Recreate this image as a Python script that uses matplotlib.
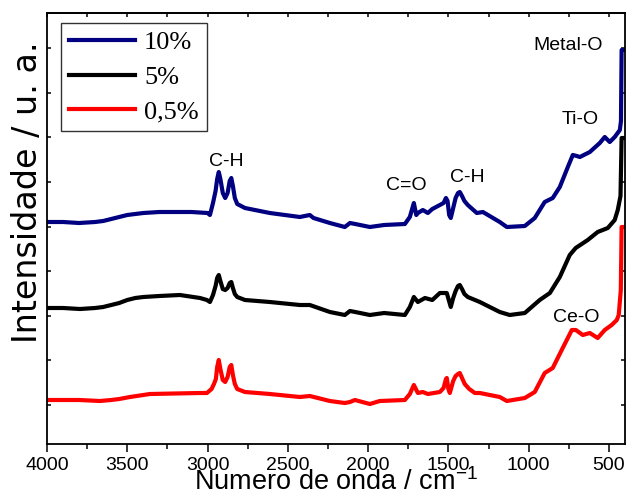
import matplotlib
matplotlib.use("Agg")
import matplotlib.pyplot as plt
import numpy as np
from matplotlib.ticker import MultipleLocator

# FTIR spectra (wavenumber in cm-1, intensity in arbitrary units)
wn_10 = [4000, 3900, 3800, 3700, 3650, 3600, 3550, 3500, 3450, 3400, 3300, 3100, 3000, 2985,
         2966, 2950, 2940, 2930, 2920, 2905, 2890, 2875, 2862, 2852, 2842, 2830, 2815, 2767,
         2612, 2425, 2363, 2340, 2238, 2145, 2113, 2080, 1989, 1900, 1771, 1740, 1715, 1700,
         1690, 1659, 1628, 1600, 1553, 1530, 1515, 1505, 1495, 1485, 1470, 1455, 1440, 1429,
         1415, 1400, 1379, 1323, 1285, 1180, 1136, 1024, 962, 900, 850, 806, 756, 725, 700,
         681, 619, 557, 526, 495, 464, 432, 425, 421, 400]
int_10 = [219, 219, 218, 219, 220, 222, 224, 226, 227, 228, 229, 229, 228, 226,
          238, 250, 262, 269, 262, 248, 243, 248, 260, 263, 255, 243, 237, 233,
          228, 224, 226, 223, 218, 214, 218, 217, 214, 216, 217, 224, 238, 226,
          228, 231, 228, 232, 236, 238, 243, 240, 226, 223, 233, 243, 248, 249,
          245, 240, 236, 228, 229, 219, 214, 215, 223, 239, 243, 254, 274, 286, 285,
          284, 289, 298, 304, 299, 304, 311, 320, 391, 391]

wn_5 = [4000, 3900, 3794, 3700, 3650, 3600, 3550, 3500, 3450, 3400, 3300, 3172, 3047, 3004,
        2985, 2966, 2950, 2940, 2930, 2920, 2905, 2890, 2875, 2862, 2852, 2842, 2830, 2815,
        2767, 2612, 2425, 2363, 2238, 2145, 2113, 2080, 1989, 1900, 1771, 1740, 1715, 1690,
        1646, 1600, 1553, 1510, 1485, 1470, 1455, 1440, 1429, 1415, 1400, 1379, 1304, 1180,
        1118, 1024, 931, 868, 806, 744, 707, 632, 570, 507, 464, 445, 428, 421, 400]
int_5 = [133, 133, 132, 133, 134, 136, 138, 141, 143, 144, 145, 146, 143, 141,
         139, 146, 155, 163, 166, 160, 152, 151, 153, 158, 159, 153, 147, 144,
         141, 139, 136, 136, 129, 126, 130, 129, 126, 128, 126, 134, 144, 139,
         143, 141, 148, 148, 134, 143, 150, 155, 156, 152, 147, 144, 139, 129,
         126, 128, 141, 148, 164, 186, 193, 201, 209, 213, 221, 231, 245, 303, 303]

wn_05 = [4000, 3800, 3670, 3600, 3550, 3483, 3400, 3359, 3047, 3004, 2975, 2960, 2948, 2940,
         2930, 2920, 2905, 2890, 2875, 2862, 2852, 2842, 2830, 2815, 2767, 2612, 2425, 2363,
         2238, 2145, 2113, 2082, 1989, 1927, 1771, 1740, 1715, 1690, 1659, 1628, 1553, 1530,
         1515, 1510, 1500, 1491, 1470, 1455, 1440, 1429, 1415, 1398, 1370, 1335, 1304, 1180,
         1136, 1024, 962, 900, 850, 794, 731, 706, 663, 619, 570, 526, 483, 451, 439, 426,
         421, 400]
int_05 = [41, 41, 40, 41, 42, 44, 46, 47, 48, 48, 52, 57, 62, 74,
          81, 72, 61, 59, 64, 74, 76, 66, 57, 52, 49, 47, 44, 45,
          40, 38, 39, 41, 37, 40, 41, 47, 56, 48, 49, 47, 49, 53,
          62, 63, 52, 48, 60, 65, 67, 68, 63, 57, 52, 48, 48, 44,
          40, 43, 49, 68, 73, 91, 111, 111, 106, 108, 103, 111, 116, 121, 126, 151,
          214, 214]

labels = ["10%", "5%", "0,5%"]
colors = ["#000080", "black", "red"]

# band assignments: (text, wavenumber, intensity)
bands = [("Metal-O", 756, 396), ("Ti-O", 682, 321), ("C-H", 2886, 279),
         ("C=O", 1759, 256), ("C-H", 1385, 264), ("Ce-O", 706, 123)]

plt.rcParams['font.family'] = ['Liberation Sans', 'DejaVu Sans']
plt.rcParams['mathtext.default'] = 'regular'

fig = plt.figure(figsize=(6.28, 5.0), dpi=100)
ax = fig.add_axes([0.0748, 0.112, 0.9204, 0.862])

for x, y, lab, c in zip([wn_10, wn_5, wn_05], [int_10, int_5, int_05], labels, colors):
    ax.plot(x, y, color=c, lw=3, label=lab, solid_joinstyle='round')

ax.set_xlim(4000, 400)
ax.set_ylim(-3, 428)

ax.xaxis.set_major_locator(MultipleLocator(500))
ax.xaxis.set_minor_locator(MultipleLocator(250))
ax.tick_params(axis='x', which='major', direction='out', length=6, width=1.1, labelsize=14, pad=3)
ax.tick_params(axis='x', which='minor', direction='out', length=3.5, width=1.1)
ax.set_xticks([4000, 3500, 3000, 2500, 2000, 1500, 1000, 500])

ax.set_yticks(np.arange(36, 428, 44.6))
ax.tick_params(axis='y', which='major', direction='in', length=3, width=1.1,
               left=True, right=True, labelleft=False)

top = ax.secondary_xaxis('top')
top.xaxis.set_major_locator(MultipleLocator(250))
top.tick_params(direction='in', length=3, width=1.1, labeltop=False)

for s in list(ax.spines.values()) + list(top.spines.values()):
    s.set_linewidth(1.3)

ax.set_xlabel("Numero de onda / cm$^{-1}$", fontsize=19.5, labelpad=-4)
ax.set_ylabel("Intensidade / u. a.", fontsize=24, family='DejaVu Sans')
ax.yaxis.set_label_coords(-0.006, 0.584)

for txt, x, y in bands:
    ax.text(x, y, txt, fontsize=14, ha='center', va='center')

leg = ax.legend(loc='upper left', bbox_to_anchor=(0.024, 0.977), borderaxespad=0,
                prop={'family': 'Liberation Serif', 'size': 19}, fancybox=False,
                edgecolor='#333333', framealpha=1, handlelength=2.5, handletextpad=0.35,
                labelspacing=0.42, borderpad=0.3)
leg.get_frame().set_linewidth(1.0)
for line in leg.get_lines():
    line.set_linewidth(3)

plt.savefig("out.png", dpi=100)
